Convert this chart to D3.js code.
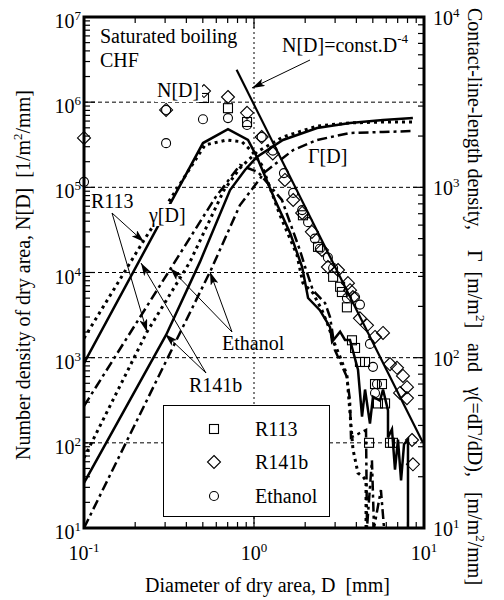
<!DOCTYPE html>
<html>
<head>
<meta charset="utf-8">
<script src="https://cdn.jsdelivr.net/npm/d3@7"></script>
<style>
body { margin: 0; background: #fff; }
svg text { font-family: "Liberation Serif", "Times New Roman", "DejaVu Serif", serif; white-space: pre; }
</style>
</head>
<body>
<div id="chart"></div>
<script>
// gamma[D] = dGamma/dD, right axis [m/m2/mm]
var gR113D = [0.1, 0.222, 0.515, 0.694, 0.85, 0.987, 1.11, 1.42, 1.79, 1.94, 2.22, 2.51, 2.72, 2.92, 3.21, 3.52, 3.62, 3.82, 4.09, 4.38, 4.56, 4.56];
var gR113V = [130, 478, 1773, 1897, 1850, 1600, 1352, 688, 401, 274, 240, 190, 156, 127, 101, 79, 56, 29, 21, 20, 19, 10];
var gR141bD = [0.1, 0.501, 0.703, 0.922, 1.04, 1.33, 1.63, 1.92, 2.08, 2.44, 2.80, 2.88, 3.21, 3.43, 3.67, 4.09, 4.32, 4.50, 4.81, 5.01, 5.51, 5.74, 6.14, 6.14, 6.48, 6.75, 7.03, 7.33, 7.63, 8.05, 8.05];
var gR141bV = [93, 1820, 2197, 1897, 1507, 843, 540, 340, 224, 190, 151, 124, 142, 127, 127, 85, 45, 65, 41, 59, 56, 65, 49, 34, 38, 22, 33, 19, 31, 33, 10];
var gEthD = [0.1, 0.325, 0.59, 0.827, 1.056, 1.46, 1.86, 2.0, 2.22, 2.62, 2.80, 2.88, 2.99, 3.52, 3.67, 3.72, 4.56, 4.62, 4.94, 5.08, 5.58, 5.82];
var gEthV = [52, 336, 866, 1352, 1230, 843, 429, 340, 249, 209, 173, 145, 111, 77, 56, 34, 37.6, 10, 25, 10, 16.7, 10];

// Gamma[D], right axis [m/m2]
var GR113D = [0.1, 0.235, 0.42, 0.666, 0.827, 1.04, 1.48, 2.35, 3.67, 5.74, 8.6];
var GR113V = [25.8, 142, 365, 964, 1298, 1612, 1974, 2291, 2388, 2420, 2420];
var GR141bD = [0.1, 0.304, 0.481, 0.723, 0.885, 1.04, 1.48, 2.35, 3.67, 5.74, 8.6];
var GR141bV = [18.4, 136, 365, 964, 1265, 1507, 1897, 2228, 2388, 2483, 2553];
var GEthD = [0.1, 0.558, 0.827, 1.16, 1.70, 2.35, 3.67, 5.74, 8.6];
var GEthV = [10, 327, 787, 1230, 1656, 1897, 2085, 2113, 2142];

// N[D] measured, left axis [1/m2/mm]
var nR113D = [0.508, 0.703, 0.91, 1.94, 2.38, 2.92, 3.21, 3.29, 3.52, 3.77, 3.93, 4.20, 4.50, 5.15, 5.66, 5.36, 5.90, 4.75, 6.31, 6.57];
var nR113V = [1.12e6, 8.5e5, 5.85e5, 4.7e4, 2.0e4, 8.9e3, 6.8e3, 5.9e3, 3.9e3, 1.6e3, 1.3e3, 890, 890, 490, 490, 290, 290, 100, 100, 100];
var nR141bD = [0.1, 0.304, 0.508, 0.703, 0.91, 1.11, 1.29, 1.52, 1.70, 1.92, 2.19, 2.51, 2.72, 3.12, 3.57, 3.67, 3.82, 4.20, 4.62, 5.15, 5.74, 6.31, 6.94, 7.52, 7.94, 7.23, 7.94, 8.50, 8.61];
var nR141bV = [3.8e5, 8.1e5, 1.35e6, 1.15e6, 7.5e5, 3.9e5, 2.5e5, 1.22e5, 7.1e4, 5.0e4, 3.0e4, 1.84e4, 1.16e4, 1.07e4, 7.5e3, 6.2e3, 5.15e3, 2.9e3, 2.4e3, 1.75e3, 1.95e3, 840, 760, 610, 450, 385, 335, 108, 56];
var nEthD = [0.1, 0.304, 0.304, 0.501, 0.703, 0.91, 1.11, 1.29, 1.50, 1.70, 1.92, 2.08, 2.28, 2.44, 2.72, 2.92, 3.52, 3.93, 4.20, 4.81, 5.01, 5.29, 5.15];
var nEthV = [1.16e5, 8.1e5, 3.3e5, 6.3e5, 6.5e5, 5.4e5, 3.9e5, 2.7e5, 1.47e5, 8.6e4, 5.4e4, 3.9e4, 2.5e4, 1.9e4, 1.5e4, 1.13e4, 5.0e3, 5.15e3, 4.2e3, 1.45e3, 780, 490, 385];

// N[D] = const.D^-4 reference line (end points)
var constD = [0.79, 9.86];
var constN = [2.4e6, 100];

var xTickVals = [0.1, 1, 10];
var yLTickVals = [10, 100, 1e3, 1e4, 1e5, 1e6, 1e7];
var yRTickVals = [10, 100, 1e3, 1e4];

function zip(a, b) { return a.map(function(d, i) { return [d, b[i]]; }); }

var svg = d3.select("#chart").append("svg").attr("width", 504).attr("height", 600)
    .attr("font-family", "Liberation Serif, Times New Roman, DejaVu Serif, serif");
var pL = 84, pR = 424, pT = 17, pB = 528;

var x = d3.scaleLog().domain([0.1, 10]).range([pL, pR]);
var yL = d3.scaleLog().domain([10, 1e7]).range([pB, pT]);
var yR = d3.scaleLog().domain([10, 1e4]).range([pB, pT]);

var defs = svg.append("defs");
defs.append("clipPath").attr("id", "clip").append("rect")
    .attr("x", pL).attr("y", pT).attr("width", pR - pL).attr("height", pB - pT);
defs.append("marker").attr("id", "arrow").attr("viewBox", "0 0 13 8").attr("refX", 13).attr("refY", 4)
    .attr("markerWidth", 13).attr("markerHeight", 8).attr("markerUnits", "userSpaceOnUse").attr("orient", "auto")
    .append("path").attr("d", "M0,0 L13,4 L0,8 L3,4 Z").attr("fill", "#000");

// grid lines
var grid = svg.append("g");
[100, 1e3, 1e4, 1e5, 1e6].forEach(function(v) {
    grid.append("line").attr("x1", pL).attr("x2", pR).attr("y1", yL(v)).attr("y2", yL(v))
        .attr("stroke", "#000").attr("stroke-width", 1).attr("stroke-dasharray", "4,3");
});
grid.append("line").attr("x1", x(1)).attr("x2", x(1)).attr("y1", pT).attr("y2", pB)
    .attr("stroke", "#000").attr("stroke-width", 1).attr("stroke-dasharray", "2,3");

// curves
var styles = {
    solid: null,
    dot: "3,4",
    dashdot: "10,4,3,4"
};
var lineR = d3.line().x(function(d) { return x(d[0]); }).y(function(d) { return yR(d[1]); });
var lineL = d3.line().x(function(d) { return x(d[0]); }).y(function(d) { return yL(d[1]); });
var curves = svg.append("g").attr("clip-path", "url(#clip)");
var series = [
    {d: zip(gR113D, gR113V), s: "dot"},
    {d: zip(gR141bD, gR141bV), s: "solid"},
    {d: zip(gEthD, gEthV), s: "dashdot"},
    {d: zip(GR113D, GR113V), s: "dot"},
    {d: zip(GR141bD, GR141bV), s: "solid"},
    {d: zip(GEthD, GEthV), s: "dashdot"}
];
series.forEach(function(c) {
    curves.append("path").attr("d", lineR(c.d)).attr("fill", "none").attr("stroke", "#000")
        .attr("stroke-width", c.s == "dot" ? 3 : 2.5).attr("stroke-linejoin", "miter")
        .attr("stroke-dasharray", styles[c.s]);
});
curves.append("path").attr("d", lineL(zip(constD, constN))).attr("fill", "none")
    .attr("stroke", "#000").attr("stroke-width", 2.2);

// markers
function square(g, cx, cy) {
    g.append("rect").attr("x", cx - 4.5).attr("y", cy - 4.5).attr("width", 9).attr("height", 9)
        .attr("fill", "none").attr("stroke", "#000").attr("stroke-width", 1.1);
}
function diamond(g, cx, cy) {
    var r = 6.5;
    g.append("path").attr("d", "M" + cx + "," + (cy - r) + "L" + (cx + r) + "," + cy + "L" + cx + "," + (cy + r) + "L" + (cx - r) + "," + cy + "Z")
        .attr("fill", "none").attr("stroke", "#000").attr("stroke-width", 1.1);
}
function circle(g, cx, cy) {
    g.append("circle").attr("cx", cx).attr("cy", cy).attr("r", 4.5)
        .attr("fill", "none").attr("stroke", "#000").attr("stroke-width", 1.1);
}
var pts = svg.append("g");
zip(nR113D, nR113V).forEach(function(d) { square(pts, x(d[0]), yL(d[1])); });
zip(nR141bD, nR141bV).forEach(function(d) { diamond(pts, x(d[0]), yL(d[1])); });
zip(nEthD, nEthV).forEach(function(d) { circle(pts, x(d[0]), yL(d[1])); });

// legend
var leg = svg.append("g");
leg.append("rect").attr("x", 163.5).attr("y", 405.5).attr("width", 166).attr("height", 111)
    .attr("fill", "#fff").attr("stroke", "#000").attr("stroke-width", 1);
square(leg, 214, 429);
diamond(leg, 214, 462);
circle(leg, 214, 496);
leg.append("text").attr("x", 255).attr("y", 436).attr("font-size", 20).text("R113");
leg.append("text").attr("x", 255).attr("y", 469).attr("font-size", 20).text("R141b");
leg.append("text").attr("x", 255).attr("y", 503).attr("font-size", 20).text("Ethanol");

// frame
svg.append("rect").attr("x", pL).attr("y", pT).attr("width", pR - pL).attr("height", pB - pT)
    .attr("fill", "none").attr("stroke", "#000").attr("stroke-width", 3);

// ticks
var tk = svg.append("g").attr("stroke", "#000").attr("stroke-width", 1.2);
[0.1, 1].forEach(function(dec) {
    for (var k = 1; k <= 9; k++) {
        var v = k * dec, len = k == 1 ? 11 : 6;
        tk.append("line").attr("x1", x(v)).attr("x2", x(v)).attr("y1", pB).attr("y2", pB - len);
        tk.append("line").attr("x1", x(v)).attr("x2", x(v)).attr("y1", pT).attr("y2", pT + len);
    }
});
[10, 100, 1e3, 1e4, 1e5, 1e6].forEach(function(dec) {
    for (var k = 1; k <= 9; k++) {
        var v = k * dec, len = k == 1 ? 11 : 6;
        tk.append("line").attr("x1", pL).attr("x2", pL + len).attr("y1", yL(v)).attr("y2", yL(v));
    }
});
[10, 100, 1e3].forEach(function(dec) {
    for (var k = 1; k <= 9; k++) {
        var v = k * dec, len = k == 1 ? 11 : 6;
        tk.append("line").attr("x1", pR).attr("x2", pR - len).attr("y1", yR(v)).attr("y2", yR(v));
    }
});

// tick labels
function powLabel(g, px, py, anchor, exp) {
    var t = g.append("text").attr("x", px).attr("y", py).attr("font-size", 20).attr("text-anchor", anchor);
    t.append("tspan").text("10");
    t.append("tspan").attr("dy", -8).attr("font-size", 13).text(exp);
}
var lab = svg.append("g");
xTickVals.forEach(function(v) { powLabel(lab, x(v), 560, "middle", String(Math.round(Math.log10(v)))); });
yLTickVals.forEach(function(v) { powLabel(lab, 81, yL(v) + 11, "end", String(Math.round(Math.log10(v)))); });
yRTickVals.forEach(function(v) { powLabel(lab, 433, yR(v) + 8, "start", String(Math.round(Math.log10(v)))); });

// axis titles
lab.append("text").attr("x", 145).attr("y", 592).attr("font-size", 20).text("Diameter of dry area, D  [mm]");
var lt = lab.append("text").attr("transform", "translate(30,275) rotate(-90)").attr("text-anchor", "middle").attr("font-size", 20);
lt.append("tspan").text("Number density of dry area, N[D]  [1/m");
lt.append("tspan").attr("dy", -8).attr("font-size", 13).text("2");
lt.append("tspan").attr("dy", 8).text("/mm]");
var rt = lab.append("text").attr("transform", "translate(468,8) rotate(90)").attr("font-size", 20);
rt.append("tspan").text("Contact-line-length density,    \u0393  [m/m");
rt.append("tspan").attr("dy", -8).attr("font-size", 13).text("2");
rt.append("tspan").attr("dy", 8).text("]   and   \u03b3(=d\u0393/dD),   [m/m");
rt.append("tspan").attr("dy", -8).attr("font-size", 13).text("2");
rt.append("tspan").attr("dy", 8).text("/mm]");

// annotations (some labels sit on a white box that hides what is under them)
var an = svg.append("g");
function note(tx, ty, s, box) {
    if (box) {
        an.append("rect").attr("x", box[0]).attr("y", box[1]).attr("width", box[2]).attr("height", box[3]).attr("fill", "#fff");
    }
    return an.append("text").attr("x", tx).attr("y", ty).attr("font-size", 20).text(s);
}
note(100, 43, "Saturated boiling");
note(100, 67, "CHF");
note(157, 97, "N[D]", [155, 78, 47, 24]);
note(308, 163, "\u0393[D]");
note(149, 222, "\u03b3[D]", [147, 204, 42, 22]);
note(91, 208, "R113");
note(189, 392, "R141b");
note(222, 350, "Ethanol");
var ct = note(282, 52, "");
ct.append("tspan").text("N[D]=const.D");
ct.append("tspan").attr("dy", -9).attr("font-size", 13).text("-4");

function arrow(x1, y1, x2, y2) {
    an.append("line").attr("x1", x1).attr("y1", y1).attr("x2", x2).attr("y2", y2)
        .attr("stroke", "#000").attr("stroke-width", 1).attr("marker-end", "url(#arrow)");
}
arrow(310, 60, 252, 88);
arrow(112, 213, 144, 242);
arrow(112, 213, 147, 332);
arrow(206, 373, 141, 263);
arrow(206, 373, 165, 334);
arrow(232, 332, 170, 268);
arrow(232, 332, 210, 272);
</script>
</body>
</html>
